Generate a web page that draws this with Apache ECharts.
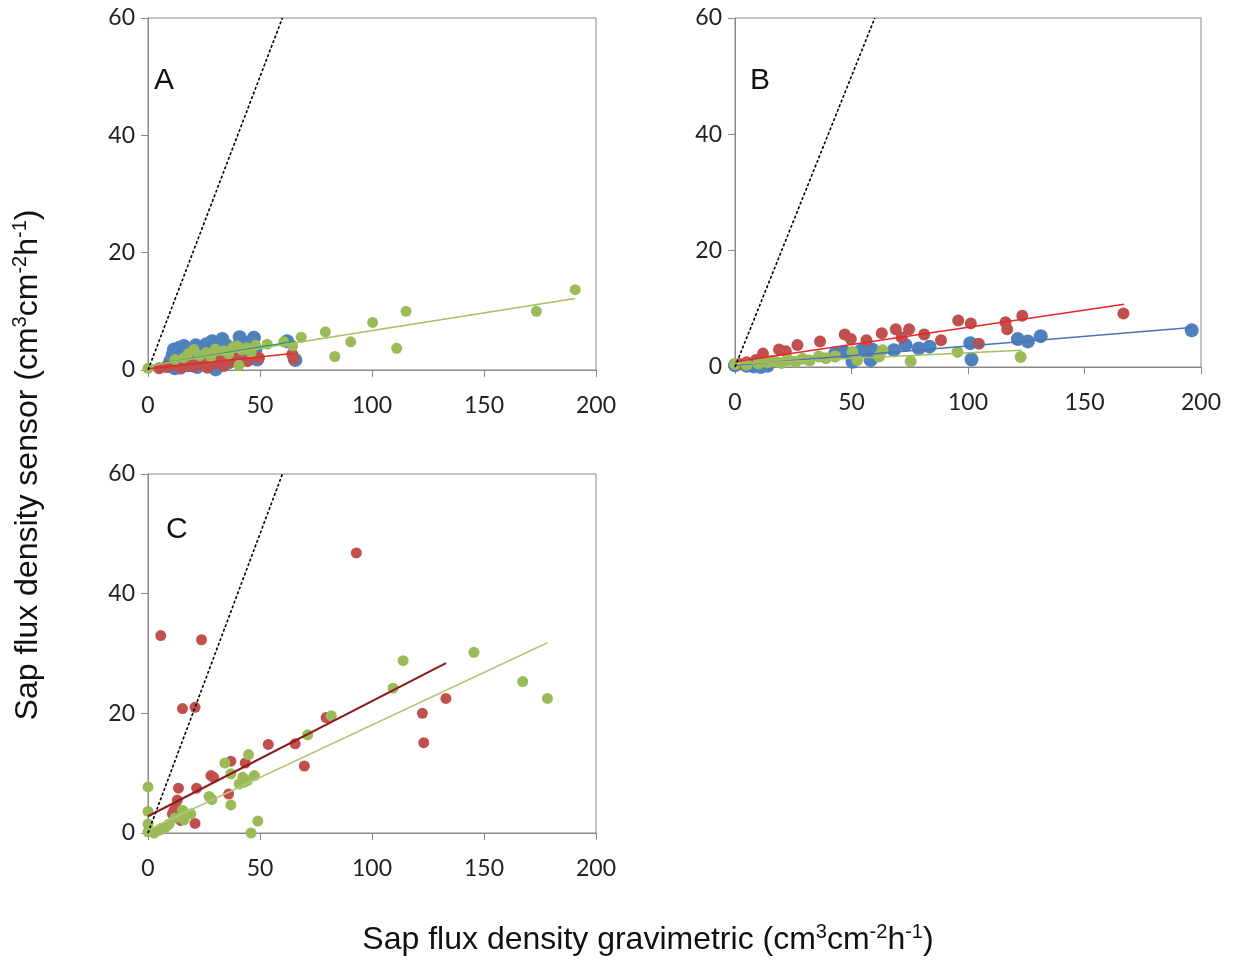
<!DOCTYPE html>
<html>
<head>
<meta charset="utf-8">
<script src="https://cdn.jsdelivr.net/npm/echarts@6/dist/echarts.min.js"></script>
<style>
  html, body { margin: 0; padding: 0; background: #fff; }
  #chart { width: 1233px; height: 960px; }
</style>
</head>
<body>
<div id="chart"></div>
<script>
// tick labels
const xTicks = [0, 50, 100, 150, 200];
const yTicks = [0, 20, 40, 60];
const panelNames = ['A', 'B', 'C'];

// 1:1 line
const oneToOne = [[0, 0], [60, 60]];

// panel A
const aBlue = [[9,0.7],[10,1.5],[11,2.6],[11.6,3.5],[12,0.3],[13,2.0],[14,3.8],[14.5,0.4],[15,1.2],[16,4.1],[17,2.8],[18,0.8],[19,3.3],[20,1.8],[21.3,4.2],[22,0.5],[23,2.5],[24,3.6],[25,1.1],[26,4.4],[27,2.2],[28.7,4.9],[29,1.5],[30.2,0.1],[31,3.2],[33.2,5.3],[34,2.6],[35,4.2],[36,1.3],[38,3.7],[40.9,5.6],[42,2.9],[44,4.6],[45,1.9],[47.3,5.5],[48.8,1.8],[48,3.6],[62.1,4.9],[65.8,1.7]];
const aRed = [[5,0.3],[8,0.5],[12,0.8],[15,0.4],[18,1.0],[20,0.6],[22,1.3],[24,0.9],[26.5,0.4],[28,1.6],[30,1.1],[32,1.9],[33.9,0.7],[35,2.0],[37,1.4],[39,2.3],[41,1.7],[44.3,1.5],[46,2.4],[49.5,2.1],[64.4,2.7],[65,1.9]];
const aGreen = [[0,0.3],[12,1.8],[16,2.1],[18,2.8],[20.5,3.5],[23,2.4],[26,3.0],[28,2.2],[30,3.6],[33.9,3.3],[36,2.7],[38,3.9],[39.9,4.1],[40.6,0.8],[42,3.4],[44,3.8],[46,3.0],[48,4.2],[53.2,4.4],[60.6,4.8],[64.6,4.1],[68.4,5.6],[79.2,6.5],[83.4,2.3],[90.5,4.8],[100.3,8.1],[111,3.7],[115.2,10.0],[173.4,10.0],[190.7,13.7]];
const aBlueFit = [[0,0.7],[65.8,4.9]];
const aRedFit = [[0,0.2],[64.4,2.8]];
const aGreenFit = [[0,0.7],[190.7,12.2]];

// panel B
const bBlue = [[0,0.3],[5,0.2],[8,0.1],[11,0],[14,0.2],[43,2.3],[46.8,2.6],[50.4,0.9],[54,2.8],[58.2,1.2],[58.9,3.0],[68.2,2.9],[73.2,3.8],[78.9,3.2],[83.5,3.5],[101,4.1],[101.5,1.3],[121.4,4.8],[125.7,4.4],[131.2,5.3],[196,6.3]];
const bRed = [[2,0.5],[5,0.8],[9,1.2],[12,2.3],[15,1.0],[18.9,3.0],[21.8,2.7],[26.8,3.8],[36.5,4.4],[47.1,5.6],[49.7,4.8],[56.4,4.6],[63,5.8],[69,6.5],[71.5,5.1],[74.7,6.5],[81.2,5.6],[88.4,4.6],[95.8,8.0],[101.2,7.5],[104.7,4.0],[116.1,7.7],[116.8,6.5],[123.3,8.8],[166.7,9.2]];
const bGreen = [[0,0.5],[5,0.4],[10,0.6],[14,0.8],[17,1.0],[20,0.7],[23,1.2],[26,0.9],[29,1.4],[32,1.1],[36,1.8],[39,1.5],[43,1.8],[50.4,2.6],[52.5,1.2],[61.8,1.8],[63.3,2.9],[75.4,1.0],[95.5,2.6],[122.6,1.7]];
const bBlueFit = [[0,0.3],[196,6.8]];
const bRedFit = [[0,0.9],[167,10.8]];
const bGreenFit = [[0,0.5],[123,2.9]];

// panel C
const cRed = [[5.7,33],[23.9,32.3],[15.4,20.8],[21,21],[93,46.8],[79.5,19.3],[65.7,14.9],[53.7,14.8],[69.8,11.2],[37,12],[43.4,11.7],[28.1,9.6],[29.3,9.3],[13.6,7.5],[21.7,7.5],[36,6.5],[21,1.6],[11.6,3.8],[12.4,4.3],[10.9,3.2],[14.6,2.1],[13.1,5.5],[133,22.5],[122.5,20],[123.1,15.1]];
const cGreen = [[0,7.7],[0,3.6],[0,1.5],[0,0.2],[2.7,0],[4.9,0.45],[6,0.8],[7.9,1.0],[9.4,1.5],[12,2.5],[15.4,3.8],[16.1,2.2],[19.1,3.2],[27.3,6.1],[28.5,5.6],[37,4.7],[49,2.0],[46,0],[34.3,11.7],[44.9,13.1],[37,9.9],[40.7,8.2],[42.3,9.3],[44.5,8.8],[47.5,9.6],[43,8.5],[71.3,16.4],[81.8,19.6],[109.4,24.2],[113.9,28.8],[145.5,30.2],[167.3,25.3],[178.3,22.5]];
const cRedFit = [[0,2.8],[133,28.4]];
const cGreenFit = [[0,0.5],[178.3,31.8]];

const BLUE = '#4f81bd', RED = '#c0504d', GREEN = '#9bbb59';

let chart = echarts.init(document.getElementById('chart'));

const grids = [
    { left: 148, top: 18, width: 448, height: 352 },
    { left: 735, top: 18, width: 466, height: 349 },
    { left: 148, top: 474, width: 448, height: 359 }
];

function xAx(i) {
    return {
        gridIndex: i, type: 'value', min: 0, max: 200, interval: 50,
        axisLine: { lineStyle: { color: '#888' } },
        axisTick: { show: true, length: 7, lineStyle: { color: '#888' } },
        splitLine: { show: false },
        axisLabel: {
            margin: 24, fontSize: 23, color: '#222', fontFamily: 'Lato',
            formatter: v => xTicks.indexOf(v) >= 0 ? String(v) : ''
        }
    };
}
function yAx(i) {
    return {
        gridIndex: i, type: 'value', min: 0, max: 60, interval: 20,
        axisLine: { show: true, lineStyle: { color: '#888' } },
        axisTick: { show: true, length: 7, lineStyle: { color: '#888' } },
        splitLine: { show: false },
        axisLabel: {
            margin: 13, fontSize: 23, color: '#222', fontFamily: 'Lato',
            formatter: v => yTicks.indexOf(v) >= 0 ? String(v) : ''
        }
    };
}

function dots(i, data, color, size) {
    return { type: 'scatter', xAxisIndex: i, yAxisIndex: i, data: data, symbolSize: size,
             itemStyle: { color: color, opacity: 1 }, silent: true, z: 2 };
}
function fit(i, data, color, width) {
    return { type: 'line', xAxisIndex: i, yAxisIndex: i, data: data, symbol: 'none',
             lineStyle: { color: color, width: width || 1.5 }, silent: true, z: 3 };
}
function diag(i) {
    return { type: 'line', xAxisIndex: i, yAxisIndex: i, data: oneToOne, symbol: 'none', clip: true,
             lineStyle: { color: '#000', width: 1.6, type: [3, 2] }, silent: true, z: 4 };
}

const letterPos = [[154, 82], [750, 82], [166, 531]];

const sup = {
    a: { fontSize: 32, fontFamily: 'Liberation Sans', fill: '#111', lineHeight: 35 },
    s: { fontSize: 20, fontFamily: 'Liberation Sans', fill: '#111', verticalAlign: 'top', lineHeight: 20 }
};

let option = {
    animation: false,
    backgroundColor: '#fff',
    grid: grids.map(g => Object.assign({ show: true, borderColor: '#888', borderWidth: 1 }, g)),
    xAxis: [xAx(0), xAx(1), xAx(2)],
    yAxis: [yAx(0), yAx(1), yAx(2)],
    series: [
        dots(0, aBlue, BLUE, 14), dots(0, aRed, RED, 12), dots(0, aGreen, GREEN, 11),
        fit(0, aRedFit, '#e02a2a'), fit(0, aBlueFit, '#2f8a86'), fit(0, aGreenFit, '#a4c060'),
        diag(0),
        dots(1, bBlue, BLUE, 14), dots(1, bRed, RED, 12), dots(1, bGreen, GREEN, 12),
        fit(1, bRedFit, '#e8262a'), fit(1, bBlueFit, '#4a74b5'), fit(1, bGreenFit, '#a4c060'),
        diag(1),
        dots(2, cRed, RED, 11), dots(2, cGreen, GREEN, 11),
        fit(2, cRedFit, '#8b1a1a', 2), fit(2, cGreenFit, '#b0c878'),
        diag(2)
    ],
    graphic: [
        ...panelNames.map((t, k) => ({
            type: 'text', left: letterPos[k][0], top: letterPos[k][1] - 16, z: 10,
            style: { text: t, fontSize: 30, fontFamily: 'Liberation Sans', fill: '#111' }
        })),
        {
            type: 'text', x: 648, y: 940, z: 10,
            style: {
                text: '{a|Sap flux density gravimetric (cm}{s|3}{a|cm}{s|-2}{a|h}{s|-1}{a|)}',
                align: 'center', verticalAlign: 'middle', rich: sup
            }
        },
        {
            type: 'text', x: 28, y: 465, rotation: Math.PI / 2, z: 10,
            style: {
                text: '{a|Sap flux density sensor (cm}{s|3}{a|cm}{s|-2}{a|h}{s|-1}{a|)}',
                align: 'center', verticalAlign: 'middle', rich: sup
            }
        }
    ]
};

chart.setOption(option);
</script>
</body>
</html>
